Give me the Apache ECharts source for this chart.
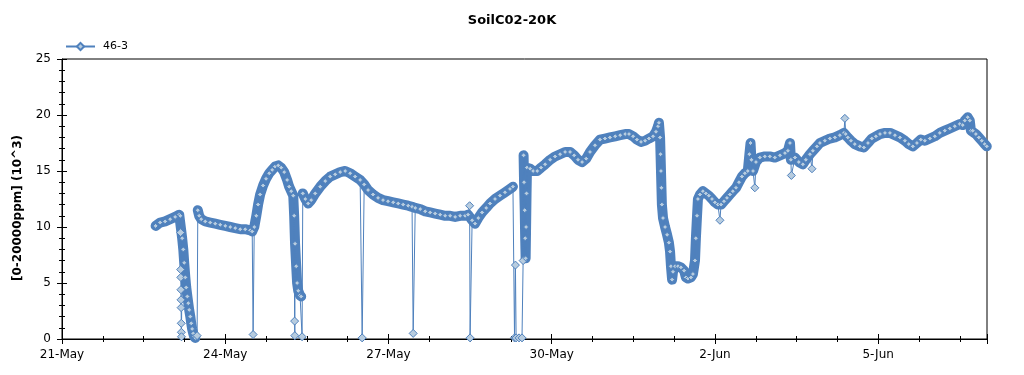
<!DOCTYPE html>
<html><head><meta charset="utf-8">
<script src="https://cdn.jsdelivr.net/npm/echarts@6/dist/echarts.min.js"></script>
<style>html,body{margin:0;padding:0;background:#fff}#c{width:1024px;height:375px}</style>
</head><body><div id="c"></div>
<script>
const chartTitle = 'SoilC02-20K';
const seriesName = '46-3';
const yAxisName = '[0-20000ppm] (10^3)';
const xTickLabels = ['21-May', '24-May', '27-May', '30-May', '2-Jun', '5-Jun'];
const xMaxHours = 408; // 21-May 00:00 .. 7-Jun 00:00

// main readings: hours since 21-May 00:00 (null value = break in the reading band)
const hours = [
  41.3, 43.3, 45.5, 47.7, 49.9, 51.7, 52.2, 53.0, 53.5, 53.9, 54.4, 54.8, 55.3, 55.7, 56.1, 56.6, 57.0, 57.4, 57.9, 58.3, 58.8, 59.3,
  59.9, 60.5, 61.4, 63.2, 65.4, 67.6, 69.8, 72.0, 74.2, 76.4, 78.6, 80.8, 83.0, 83.9, 84.8, 85.7, 86.5, 87.4, 88.7, 90.0, 91.4, 92.7,
  94.0, 95.4, 96.7, 98.0, 99.3, 100.2, 101.1, 102.0, 102.4, 102.8, 103.3, 103.7, 104.2, 105.0, 105.5, 105.8,
  106.2, 107.3, 108.6, 109.9, 111.7, 113.9, 116.1, 118.3, 120.5, 122.7, 124.9, 127.1, 129.3, 131.5, 133.3, 135.0, 137.2, 139.4,
  141.6, 143.8, 146.1, 148.3, 150.5, 152.7, 154.4, 155.8, 158.0, 160.2, 162.4, 164.6, 166.8, 169.0, 171.2, 173.4, 175.6, 177.8,
  179.1, 180.9, 182.2, 183.6, 185.3, 187.1, 188.8, 191.0, 193.2, 195.4, 197.6, 198.9, 199.3,
  203.6, 203.8, 204.1, 204.3, 204.5, 204.7, 204.9, 205.1, 206.5, 207.8, 209.6, 211.3, 213.1, 215.3, 217.5, 219.7, 221.9, 224.1,
  225.9, 227.6, 229.4, 231.2, 232.9, 235.1, 237.3, 239.5, 241.7, 244.0, 246.2, 248.4, 250.1, 251.9, 253.6, 255.4, 257.2, 258.9,
  260.7, 262.0, 262.9, 263.3, 263.8, 264.0, 264.2, 264.4, 264.6, 265.1, 266.0, 266.9, 267.7, 268.2, 268.6, 269.1, 269.5, 270.4,
  271.7, 273.0, 274.4, 275.2, 276.1, 277.4, 278.3, 279.2, 279.6, 280.1, 280.5, 281.4, 282.7, 284.0, 285.3, 286.7, 288.0, 289.3,
  290.7, 292.0, 293.3, 294.6, 295.9, 297.3, 298.6, 299.9, 301.2, 302.5, 303.2, 303.7, 304.1, 304.8, 306.1, 307.8, 310.0, 312.2,
  314.4, 316.7, 318.9, 320.2, 321.1, 321.5, 323.3, 325.0, 326.8, 328.1, 329.9, 331.2, 333.0, 334.3, 336.5, 338.7, 340.9, 343.1,
  344.9, 345.7, 346.6, 348.0, 349.7, 351.9, 353.7, 355.5, 357.2, 359.0, 360.8, 363.0, 365.2, 367.4, 369.6, 371.8, 373.5, 375.3,
  377.1, 378.8, 380.6, 382.8, 385.0, 387.2, 389.4, 391.6, 393.8, 396.0, 397.3, 398.2, 399.5, 400.4, 400.9, 401.7, 403.1, 404.4,
  405.7, 407.0, 407.9
];
const values = [
  10.1, 10.4, 10.5, 10.7, 10.9, 11.1, 11.0, 9.0, 8.0, 6.8, 5.5, 4.6, 3.8, 3.2, 2.6, 2.0, 1.4, 0.9, 0.5, 0.2, 0.1, null,
  11.5, 11.0, 10.7, 10.5, 10.4, 10.3, 10.2, 10.1, 10.0, 9.9, 9.8, 9.8, 9.7, 9.6, 10.0, 11.0, 12.0, 12.9, 13.7, 14.3, 14.8, 15.1,
  15.4, 15.5, 15.3, 14.9, 14.2, 13.6, 13.2, 12.8, 11.0, 8.5, 6.5, 5.0, 4.3, 3.9, 3.8, null,
  13.0, 12.5, 12.1, 12.4, 13.0, 13.6, 14.1, 14.5, 14.7, 14.9, 15.0, 14.8, 14.5, 14.2, 13.8, 13.3, 12.9, 12.6,
  12.4, 12.3, 12.2, 12.1, 12.0, 11.9, 11.8, 11.7, 11.6, 11.4, 11.3, 11.2, 11.1, 11.0, 11.0, 10.9, 11.0, 11.0,
  11.1, 10.6, 10.3, 10.8, 11.3, 11.7, 12.1, 12.5, 12.8, 13.1, 13.4, 13.6, null,
  16.4, 14.0, 11.5, 9.0, 7.2, 10.0, 13.0, 15.3, 15.2, 15.0, 15.0, 15.3, 15.6, 16.0, 16.3, 16.5, 16.7, 16.7,
  16.4, 16.0, 15.8, 16.1, 16.7, 17.3, 17.8, 17.9, 18.0, 18.1, 18.2, 18.3, 18.3, 18.1, 17.8, 17.6, 17.7, 17.9,
  18.1, 18.5, 19.0, 19.3, 18.0, 16.5, 15.0, 13.5, 12.0, 10.8, 10.0, 9.3, 8.6, 7.8, 6.5, 5.3, 6.0, 6.5,
  6.5, 6.4, 6.1, 5.5, 5.4, 5.5, 5.8, 7.0, 9.0, 11.0, 12.5, 12.9, 13.2, 13.0, 12.8, 12.5, 12.2, 12.0,
  12.0, 12.3, 12.6, 12.9, 13.2, 13.5, 14.0, 14.5, 14.8, 15.0, 16.5, 17.5, 16.0, 15.0, 15.8, 16.2, 16.3, 16.3,
  16.2, 16.4, 16.6, 16.8, 17.5, 16.0, 16.2, 15.8, 15.6, 16.0, 16.5, 16.8, 17.2, 17.5, 17.7, 17.9, 18.0, 18.2,
  18.4, 18.3, 18.0, 17.7, 17.4, 17.2, 17.1, 17.5, 17.9, 18.1, 18.3, 18.4, 18.4, 18.2, 18.0, 17.7, 17.4, 17.2,
  17.5, 17.8, 17.7, 17.9, 18.1, 18.4, 18.6, 18.8, 19.0, 19.2, 19.1, 19.5, 19.8, 19.5, 18.6, 18.6, 18.3, 18.0,
  17.7, 17.4, 17.2
];
// isolated readings (drop-outs and spikes)
const outlierHours = [
  52.3, 52.35, 52.4, 52.45, 52.5, 52.55, 52.6, 52.65, 52.7, 59.6, 84.3, 102.6, 102.7, 105.9, 132.4, 154.9,
  179.8, 180.0, 199.6, 200.0, 200.3, 201.6, 202.9, 203.4, 290.2, 305.6, 321.7, 330.8, 345.3
];
const outlierValues = [
  9.5, 6.2, 5.5, 4.4, 3.5, 2.8, 1.4, 0.6, 0.2, 0.3, 0.4, 1.6, 0.3, 0.2, 0.1, 0.5,
  11.9, 0.1, 0.1, 6.6, 0.1, 0.1, 0.1, 7.0, 10.6, 13.5, 14.6, 15.2, 19.7
];

const BLUE = '#4F81BD';
const FILL = '#B7CCDF';
const FONT = 'DejaVu Sans';

const bandData = hours.map((h, i) => [h, values[i]]);
const allData = bandData.filter(p => p[1] !== null).map(p => [p[0], p[1], 0])
  .concat(outlierHours.map((h, i) => [h, outlierValues[i], 1]))
  .sort((a, b) => a[0] - b[0]);

const xBase = {type: 'value', min: 0, max: xMaxHours, splitLine: {show: false}, axisLabel: {show: false}, axisLine: {show: false}};
const yBase = {type: 'value', min: 0, max: 25, splitLine: {show: false}, axisLabel: {show: false}, axisLine: {show: false}};
const tick = (inside, length) => ({show: true, inside, length, lineStyle: {color: '#000', width: 1}});

const chart = echarts.init(document.getElementById('c'), null, {renderer: 'canvas'});
chart.setOption({
  animation: false,
  backgroundColor: '#fff',
  title: {text: chartTitle, left: 'center', top: 9, textStyle: {fontFamily: FONT, fontSize: 13, fontWeight: 'bold', color: '#000'}},
  legend: {
    data: [seriesName], left: 65, top: 41, padding: 0, itemWidth: 29, itemHeight: 9, itemGap: 10,
    textStyle: {fontFamily: FONT, fontSize: 11, color: '#000', padding: [0, 0, 0, 3]}
  },
  grid: {left: 62, right: 37, top: 59, bottom: 36, show: true, borderColor: '#000', borderWidth: 1, backgroundColor: 'transparent'},
  xAxis: [
    Object.assign({}, xBase, {position: 'bottom', interval: 72,
      axisLine: {show: true, onZero: false, lineStyle: {color: '#000', width: 1}},
      axisTick: tick(false, 4),
      axisLabel: {show: true, margin: 10, color: '#000', fontFamily: FONT, fontSize: 12,
        formatter: v => (v % 72 === 0 && xTickLabels[v / 72]) ? xTickLabels[v / 72] : ''}}),
    Object.assign({}, xBase, {position: 'bottom', interval: 72, axisTick: tick(true, 5)}),
    Object.assign({}, xBase, {position: 'bottom', interval: 18, axisTick: tick(false, 3)}),
    Object.assign({}, xBase, {position: 'bottom', interval: 18, axisTick: tick(true, 3)}),
    Object.assign({}, xBase, {position: 'top', interval: 72, axisTick: tick(true, 5)}),
    Object.assign({}, xBase, {position: 'top', interval: 18, axisTick: tick(true, 3)})
  ],
  yAxis: [
    Object.assign({}, yBase, {position: 'left', interval: 5,
      axisLine: {show: true, onZero: false, lineStyle: {color: '#000', width: 1}},
      axisTick: tick(false, 4),
      axisLabel: {show: true, margin: 11, color: '#000', fontFamily: FONT, fontSize: 12},
      name: yAxisName, nameLocation: 'middle', nameGap: 38,
      nameTextStyle: {fontFamily: FONT, fontSize: 12, fontWeight: 'bold', color: '#000', padding: [0, 18, 0, 0]}}),
    Object.assign({}, yBase, {position: 'left', interval: 5, axisTick: tick(true, 5)}),
    Object.assign({}, yBase, {position: 'left', interval: 1, axisTick: tick(false, 2)}),
    Object.assign({}, yBase, {position: 'left', interval: 1, axisTick: tick(true, 3)}),
    Object.assign({}, yBase, {position: 'right', interval: 5, axisTick: tick(true, 5)}),
    Object.assign({}, yBase, {position: 'right', interval: 1, axisTick: tick(true, 3)})
  ],
  series: [
    {
      name: 'band', type: 'line', data: bandData, xAxisIndex: 0, yAxisIndex: 0,
      showSymbol: false, connectNulls: false, silent: true, z: 2,
      lineStyle: {color: BLUE, width: 10, cap: 'round', join: 'round'}
    },
    {
      name: seriesName, type: 'line', data: allData, xAxisIndex: 0, yAxisIndex: 0,
      encode: {x: 0, y: 1},
      symbol: 'diamond', showSymbol: true, z: 3,
      symbolSize: (v) => (v[2] === 1 ? 8 : 5),
      itemStyle: {color: FILL, borderColor: BLUE, borderWidth: 1},
      lineStyle: {color: BLUE, width: 1}
    }
  ]
});
</script></body></html>
